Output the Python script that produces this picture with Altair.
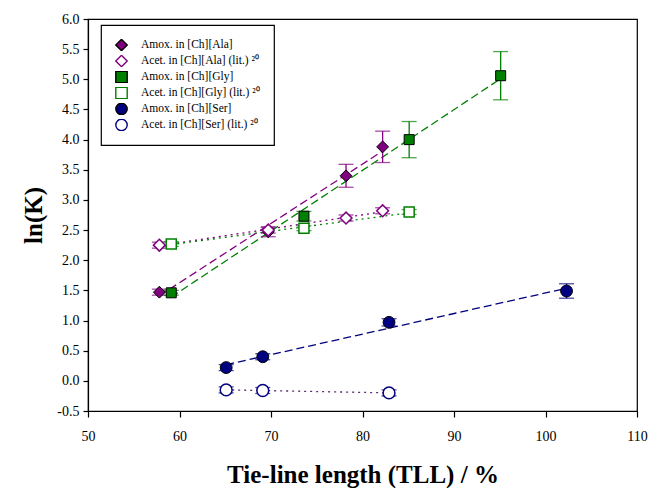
import altair as alt
import pandas as pd

FONT = "Liberation Serif"

# Series names (legend order)
series_names = [
    "Amox. in [Ch][Ala]",
    "Acet. in [Ch][Ala] (lit.) ²⁰",
    "Amox. in [Ch][Gly]",
    "Acet. in [Ch][Gly] (lit.) ²⁰",
    "Amox. in [Ch][Ser]",
    "Acet. in [Ch][Ser] (lit.) ²⁰",
]

# Tie-line length (%) per series
tll = [
    [57.8, 69.7, 78.2, 82.2],
    [57.8, 69.7, 78.2, 82.2],
    [59.1, 73.6, 85.1, 95.1],
    [59.1, 73.6, 85.1],
    [65.1, 69.1, 82.9, 102.3],
    [65.1, 69.1, 82.9],
]

# ln(K) per series
lnk = [
    [1.47, 2.47, 3.40, 3.88],
    [2.25, 2.50, 2.70, 2.82],
    [1.46, 2.73, 4.00, 5.06],
    [2.27, 2.53, 2.80],
    [0.22, 0.40, 0.97, 1.49],
    [-0.15, -0.16, -0.20],
]

# Standard deviations of ln(K)
err = [
    [0.05, 0.08, 0.19, 0.26],
    [0.05, 0.05, 0.05, 0.05],
    [0.04, 0.08, 0.30, 0.40],
    [0.04, 0.04, 0.04],
    [0.05, 0.05, 0.06, 0.12],
    [0.05, 0.05, 0.05],
]

# Axis tick values
y_ticks = [-0.5, 0.0, 0.5, 1.0, 1.5, 2.0, 2.5, 3.0, 3.5, 4.0, 4.5, 5.0, 5.5, 6.0]
x_ticks = [50, 60, 70, 80, 90, 100, 110]

fills = ["#800080", "white", "#008000", "white", "#000080", "white"]
strokes = ["black", "#800080", "black", "#008000", "black", "#000080"]
shapes = ["diamond", "diamond", "square", "square", "circle", "circle"]
bar_colors = ["#800080", "#800080", "#008000", "#008000", "#000080", "#000080"]
line_colors = ["#800080", "#800080", "#008000", "#008000", "#000080", "#5B2C6F"]
line_styles = ["dash", "dot", "dash", "dot", "dash", "dot"]
marker_sizes = [140, 140, 100, 100, 140, 140]
stroke_widths = [1.0, 1.5, 1.0, 1.5, 1.0, 1.5]

rows = []
for i, name in enumerate(series_names):
    for x, y, e in zip(tll[i], lnk[i], err[i]):
        rows.append({
            "series": name, "tll": x, "lnk": y,
            "lo": y - e, "hi": y + e,
            "ebc": bar_colors[i], "lcol": line_colors[i],
            "style": line_styles[i], "msize": marker_sizes[i],
            "sw": stroke_widths[i],
        })
df = pd.DataFrame(rows)

x_scale = alt.Scale(domain=[50, 110], nice=False, zero=False)
y_scale = alt.Scale(domain=[-0.5, 6.0], nice=False, zero=False)

x_axis = alt.Axis(values=x_ticks, tickSize=6, labelPadding=12,
                  titlePadding=19, format="d", labelFlush=False, labelOverlap=False)
y_axis = alt.Axis(values=y_ticks, tickSize=5, labelPadding=4,
                  titlePadding=10, labelFlush=False, labelOverlap=False,
                  labelExpr="datum.value < 0 ? '-' + format(-datum.value, '.1f') : format(datum.value, '.1f')")

X_TITLE = "Tie-line length (TLL) / %"
Y_TITLE = "ln(K)"

base = alt.Chart(df)

# Linear fits per series
fit_lines = base.transform_regression(
    "tll", "lnk", groupby=["series", "lcol", "style"]
).mark_line(strokeWidth=1.3).encode(
    x=alt.X("tll:Q", scale=x_scale, axis=x_axis, title=X_TITLE),
    y=alt.Y("lnk:Q", scale=y_scale, axis=y_axis, title=Y_TITLE),
    stroke=alt.Stroke("lcol:N", scale=None),
    strokeDash=alt.StrokeDash("style:N", scale=alt.Scale(domain=["dash", "dot"],
                                                         range=[[8, 4], [2, 4]]),
                              legend=None),
    detail="series:N",
)

error_bars = base.mark_errorbar(ticks={"size": 15, "thickness": 1.3}, thickness=1.3).encode(
    x=alt.X("tll:Q", scale=x_scale, axis=x_axis, title=X_TITLE),
    y=alt.Y("lo:Q", scale=y_scale, axis=y_axis, title=Y_TITLE),
    y2="hi:Q",
    color=alt.Color("ebc:N", scale=None),
)

legend = alt.Legend(title=None)
points = base.mark_point(opacity=1, filled=False).encode(
    x=alt.X("tll:Q", scale=x_scale, axis=x_axis, title=X_TITLE),
    y=alt.Y("lnk:Q", scale=y_scale, axis=y_axis, title=Y_TITLE),
    shape=alt.Shape("series:N", scale=alt.Scale(domain=series_names, range=shapes),
                    legend=legend),
    fill=alt.Fill("series:N", scale=alt.Scale(domain=series_names, range=fills),
                  legend=legend),
    stroke=alt.Stroke("series:N", scale=alt.Scale(domain=series_names, range=strokes),
                      legend=legend),
    size=alt.Size("msize:Q", scale=None, legend=None),
    strokeWidth=alt.StrokeWidth("sw:Q", scale=None, legend=None),
)

chart = alt.layer(fit_lines, error_bars, points).properties(
    width=549, height=392,
    autosize=alt.AutoSizeParams(type="none"),
    padding={"left": 88, "top": 19, "right": 12, "bottom": 77},
    background="white",
).configure_view(
    stroke="black", strokeWidth=1.2
).configure_axis(
    grid=False, domainColor="black", tickColor="black", domainWidth=1.2, tickWidth=1.2,
    labelFont=FONT, labelFontSize=14, labelColor="black", labelOverlap=False,
    titleFont=FONT, titleFontSize=25, titleFontWeight="bold", titleColor="black",
).configure_legend(
    orient="none", legendX=13, legendY=6, padding=14,
    strokeColor="black", fillColor="white", strokeWidth=1.2,
    labelFont=FONT, labelFontSize=11.5, labelColor="black", labelLimit=200,
    symbolSize=130, symbolStrokeWidth=1.4, rowPadding=4, labelOffset=13,
    clipHeight=12,
)

chart.save("out.html", embed_options={"renderer": "svg", "actions": False})
